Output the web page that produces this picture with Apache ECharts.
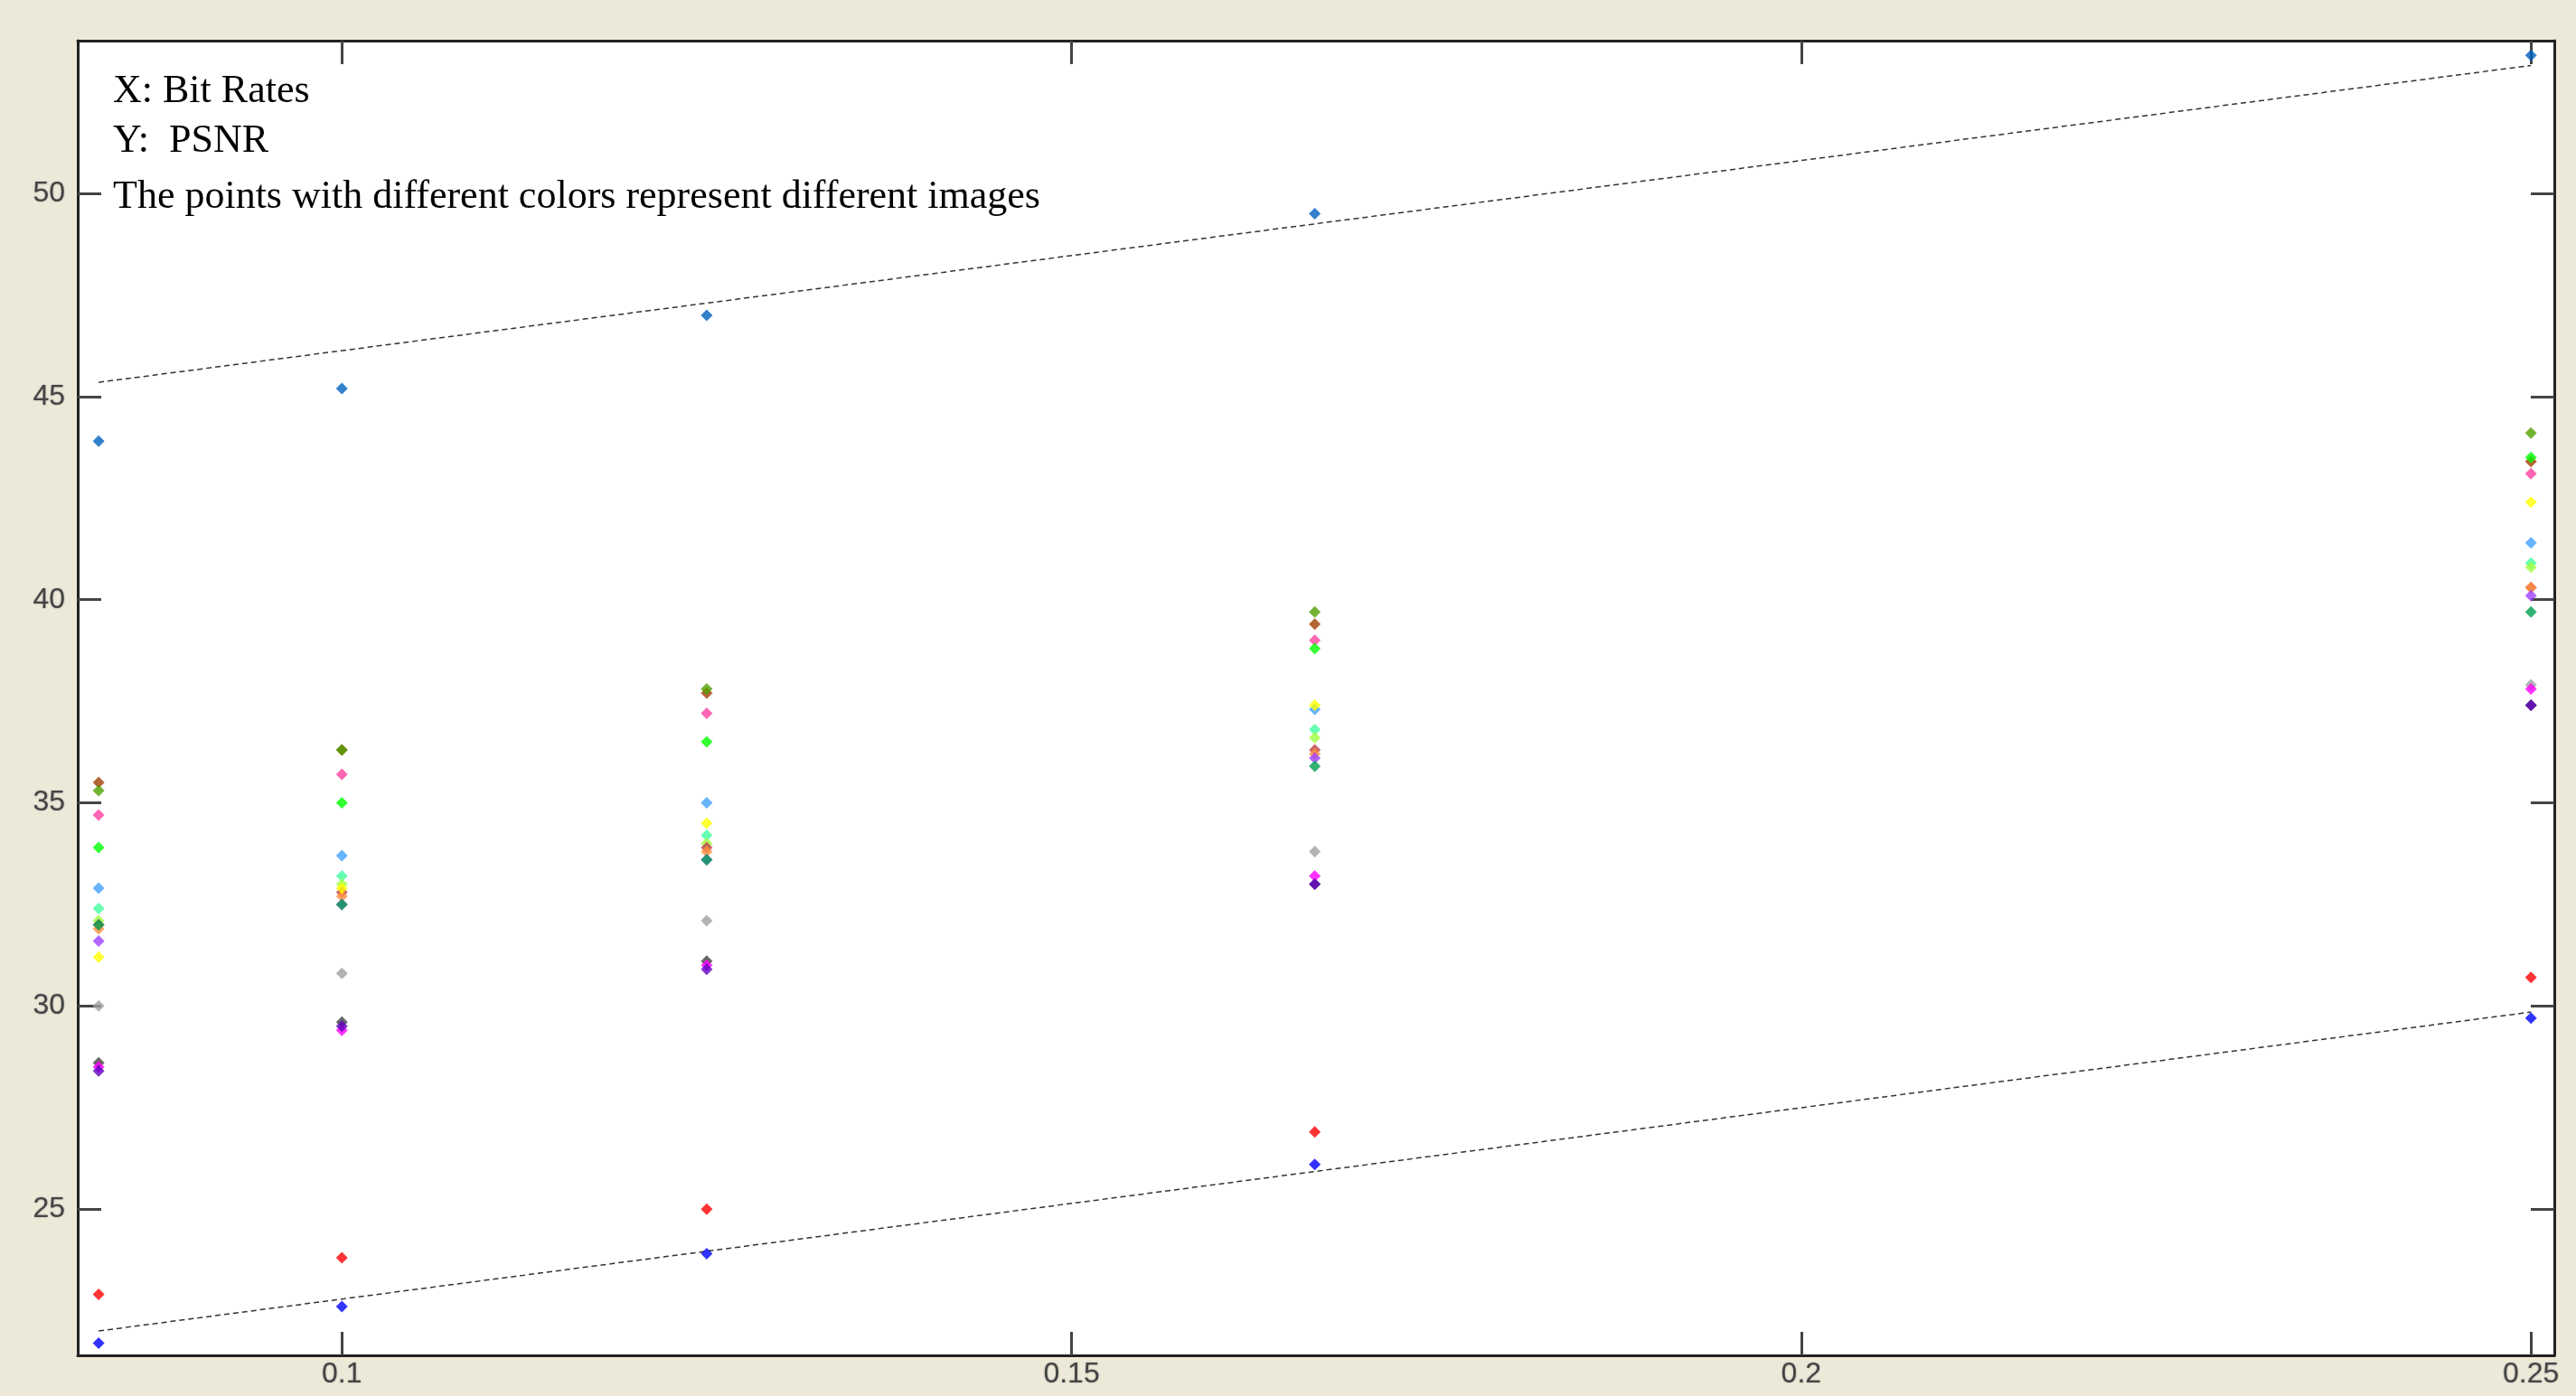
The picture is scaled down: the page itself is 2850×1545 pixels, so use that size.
<!DOCTYPE html>
<html><head><meta charset="utf-8">
<script src="https://cdn.jsdelivr.net/npm/echarts@6/dist/echarts.min.js"></script>
<style>html,body{margin:0;background:#ece9d8}#c{width:2850px;height:1545px}</style></head>
<body><div id="c"></div>
<script>
const xs = [1/12, 0.1, 0.125, 1/6, 0.25];
const xTicks = [0.1, 0.15, 0.2, 0.25];
const yTicks = [25, 30, 35, 40, 45, 50];
const colors = ['#0060c0','#0000ff','#ff0000','#a04000','#50a000','#ff40a0','#00ff00','#40a0ff','#40ffa0','#a0ff40','#c04040','#ff9040','#a040ff','#ffff00','#00a050','#a0a0a0','#404040','#ff00ff','#6000c0'];
const imgs = [
 [43.9,45.2,47.0,49.5,53.4],
 [21.7,22.6,23.9,26.1,29.7],
 [22.9,23.8,25.0,26.9,30.7],
 [35.5,36.3,37.7,39.4,43.4],
 [35.3,36.3,37.8,39.7,44.1],
 [34.7,35.7,37.2,39.0,43.1],
 [33.9,35.0,36.5,38.8,43.5],
 [32.9,33.7,35.0,37.3,41.4],
 [32.4,33.2,34.2,36.8,40.9],
 [32.1,33.0,34.0,36.6,40.8],
 [32.0,32.8,33.9,36.3,40.3],
 [31.9,32.7,33.8,36.2,40.3],
 [31.6,32.5,33.6,36.1,40.1],
 [31.2,32.9,34.5,37.4,42.4],
 [32.0,32.5,33.6,35.9,39.7],
 [30.0,30.8,32.1,33.8,37.9],
 [28.6,29.6,31.1,33.0,37.4],
 [28.5,29.4,31.0,33.2,37.8],
 [28.4,29.5,30.9,33.0,37.4]
];
const upperLine = [[1/12,45.35],[0.25,53.15]];
const lowerLine = [[1/12,22.0],[0.25,29.85]];
const XMIN=0.0819, XMAX=0.2516, YMIN=21.4, YMAX=53.76;
const lab = {color:'#444',fontSize:32,fontFamily:'Liberation Sans',textShadowColor:'#999',textShadowBlur:2};
function ax(extra){return Object.assign({type:'value',splitLine:{show:false},
  axisLine:{show:true,onZero:false,lineStyle:{color:'#222',width:3}}},extra);}
const tick = v=>({show:true,inside:true,length:26,customValues:v,lineStyle:{color:'#444',width:3}});
const series = imgs.map((v,i)=>({type:'scatter',symbol:'diamond',symbolSize:13,
  itemStyle:{color:colors[i]},data:v.map((y,j)=>[xs[j],y]),z:3}));
series.push({type:'line',data:upperLine,symbol:'none',lineStyle:{color:'#333',width:1.5,type:[6,4]}});
series.push({type:'line',data:lowerLine,symbol:'none',lineStyle:{color:'#333',width:1.5,type:[6,4]}});
const ch = echarts.init(document.getElementById('c'));
ch.setOption({
 backgroundColor:'#ece9d8',animation:false,
 grid:{left:86,right:24,top:45,bottom:45,show:true,backgroundColor:'#fff',borderWidth:0},
 xAxis:[ax({min:XMIN,max:XMAX,position:'bottom',axisTick:tick(xTicks),axisLabel:Object.assign({customValues:xTicks,margin:5},lab)}),
        ax({min:XMIN,max:XMAX,position:'top',axisTick:tick(xTicks),axisLabel:{show:false}})],
 yAxis:[ax({min:YMIN,max:YMAX,position:'left',axisTick:tick(yTicks),axisLabel:Object.assign({customValues:yTicks,margin:14},lab)}),
        ax({min:YMIN,max:YMAX,position:'right',axisTick:tick(yTicks),axisLabel:{show:false}})],
 graphic:[
  {type:'text',left:125,top:79,style:{text:'X: Bit Rates',font:'44px "Liberation Serif"',fill:'#000'}},
  {type:'text',left:125,top:134,style:{text:'Y:  PSNR',font:'44px "Liberation Serif"',fill:'#000'}},
  {type:'text',left:125,top:196,style:{text:'The points with different colors represent different images',font:'44px "Liberation Serif"',fill:'#000'}}
 ],
 series
});
</script></body></html>
